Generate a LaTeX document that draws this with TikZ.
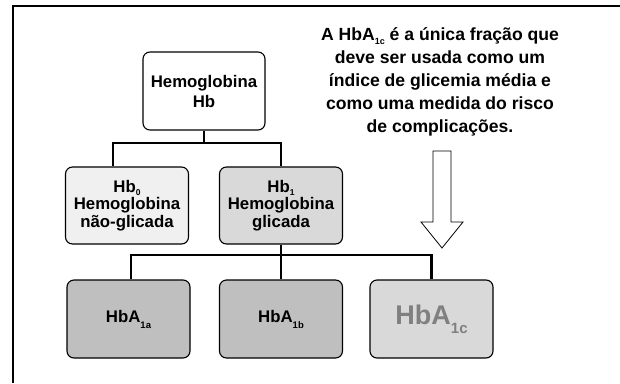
\documentclass[tikz,border=0pt]{standalone}
\usepackage{fontspec}
\setmainfont{Liberation Sans}
\usetikzlibrary{calc}
\definecolor{fillzero}{RGB}{240,240,240}
\definecolor{fillone}{RGB}{217,217,217}
\definecolor{fillab}{RGB}{191,191,191}
\definecolor{fillc}{RGB}{217,217,217}
\definecolor{txtc}{RGB}{128,128,128}
\newcommand{\lowsub}[3]{\raisebox{-#2}{\fontsize{#3}{#3}\selectfont #1}}
\begin{document}
\begin{tikzpicture}[x=1pt,y=-1pt,
  box/.style={draw=black, line width=1.1pt, rounded corners=7pt, minimum width=123pt,
    minimum height=77pt, inner sep=0pt, align=center,
    font=\bfseries\fontsize{16.8}{17.5}\selectfont},
  link/.style={line width=2.6pt}]
\useasboundingbox (0,0) rectangle (620,383);
\fill[white] (0,0) rectangle (620,383);
% frame
\draw[line width=2.6pt] (13,383) -- (13,6) -- (620,6);

\node[box, fill=white, minimum width=122pt, minimum height=78pt,
  font=\bfseries\fontsize{16.8}{20}\selectfont] (hemo) at (204,91) {Hemoglobina\\Hb};
\node[box, fill=fillzero] (hb0) at (127,205.5) {Hb\lowsub{0}{3pt}{8.5}\\Hemoglobina\\não-glicada};
\node[box, fill=fillone] (hb1) at (281,205.5) {Hb\lowsub{1}{3pt}{8.5}\\Hemoglobina\\glicada};

\node[box, fill=fillab, minimum height=78pt] (a1a) at (128.5,319) {HbA\lowsub{1a}{6pt}{9.5}};
\node[box, fill=fillab, minimum height=78pt] (a1b) at (281,319) {HbA\lowsub{1b}{6pt}{9.5}};
\node[box, fill=fillc, minimum height=78pt, text=txtc,
  font=\bfseries\fontsize{27}{29}\selectfont] (a1c) at (431.5,319) {HbA\lowsub{1c}{9pt}{15}};

% connectors
\coordinate (j1) at (204,143);
\draw[link] (hemo.south) -- (j1);
\draw[link] (hb0.north -| 113,0) |- (j1) -| (hb1.north);
\coordinate (j2) at (281,255);
\draw[link] (hb1.south) -- (j2);
\draw[link] (a1a.north -| 131,0) |- (j2) -| (a1c.north);
\draw[link] (j2) -- (a1b.north);

% note text
\node[font=\bfseries\fontsize{17.6}{23}\selectfont, align=center, inner sep=0pt] (note) at (440,82)
  {A HbA\lowsub{1c}{4pt}{9} é a única fração que\\deve ser usada como um\\índice de glicemia média e\\como uma medida do risco\\de complicações.};

% block arrow
\draw[line width=0.8pt, fill=white] (433,151) -- (451,151) -- (451,222) -- (463,222)
  -- (442,248) -- (421,222) -- (433,222) -- cycle;
\end{tikzpicture}
\end{document}
